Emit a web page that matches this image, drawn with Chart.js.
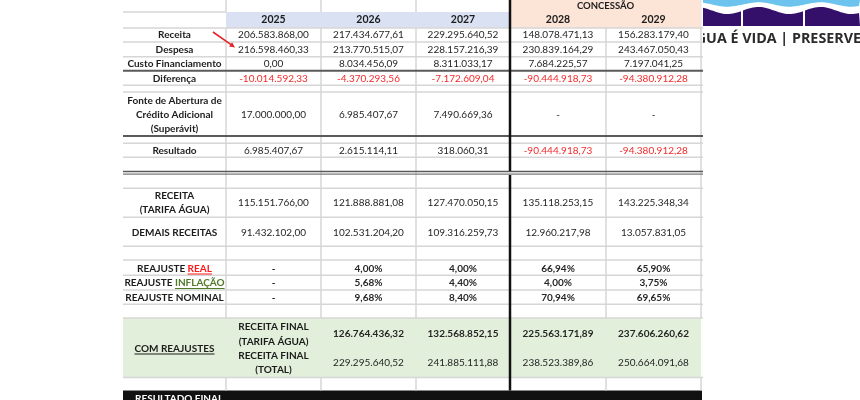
<!DOCTYPE html>
<html lang="pt-BR">
<head>
<meta charset="UTF-8">
<title>Projeção - Concessão</title>
<script src="https://cdn.jsdelivr.net/npm/chart.js"></script>
<style>
  body { margin: 0; background: #fff; }
  canvas { display: block; }
</style>
</head>
<body>
<canvas id="tabela" width="860" height="400"></canvas>
<script>
// dados da planilha
const ANOS = ['2025', '2026', '2027', '2028', '2029'];
const RECEITA = [206583868.00, 217434677.61, 229295640.52, 148078471.13, 156283179.40];
const DESPESA = [216598460.33, 213770515.07, 228157216.39, 230839164.29, 243467050.43];
const CUSTO_FIN = [0.00, 8034456.09, 8311033.17, 7684225.57, 7197041.25];
const DIFERENCA = [-10014592.33, -4370293.56, -7172609.04, -90444918.73, -94380912.28];
const FONTE_CREDITO = [17000000.00, 6985407.67, 7490669.36, null, null];
const RESULTADO = [6985407.67, 2615114.11, 318060.31, -90444918.73, -94380912.28];
const RECEITA_TARIFA = [115151766.00, 121888881.08, 127470050.15, 135118253.15, 143225348.34];
const DEMAIS_RECEITAS = [91432102.00, 102531204.20, 109316259.73, 12960217.98, 13057831.05];
const REAJ_REAL = [null, 4.00, 4.00, 66.94, 65.90];
const REAJ_INFLACAO = [null, 5.68, 4.40, 4.00, 3.75];
const REAJ_NOMINAL = [null, 9.68, 8.40, 70.94, 69.65];
const FINAL_TARIFA = [null, 126764436.32, 132568852.15, 225563171.89, 237606260.62];
const FINAL_TOTAL = [null, 229295640.52, 241885111.88, 238523389.86, 250664091.68];

// layout da grade (unidades das escalas)
const COLS = [123, 226, 321, 416, 510, 606, 701];
const colMid = i => (COLS[i] + COLS[i + 1]) / 2;
const FONT = 'Lato';

function moeda(v) {
    const s = Math.abs(v).toFixed(2).split('.');
    const inteiro = s[0].replace(/\B(?=(\d{3})+(?!\d))/g, '.');
    return (v < 0 ? '-' : '') + inteiro + ',' + s[1];
}
function pct(v) {
    return v.toFixed(2).replace('.', ',') + '%';
}

const linhas = [
    { valores: RECEITA, y: 35, fmt: moeda },
    { valores: DESPESA, y: 49.5, fmt: moeda },
    { valores: CUSTO_FIN, y: 63.5, fmt: moeda },
    { valores: DIFERENCA, y: 78.5, fmt: moeda },
    { valores: FONTE_CREDITO, y: 115, fmt: moeda },
    { valores: RESULTADO, y: 151, fmt: moeda },
    { valores: RECEITA_TARIFA, y: 203, fmt: moeda },
    { valores: DEMAIS_RECEITAS, y: 232.5, fmt: moeda },
    { valores: REAJ_REAL, y: 268.5, fmt: pct, bold: true },
    { valores: REAJ_INFLACAO, y: 283, fmt: pct, bold: true },
    { valores: REAJ_NOMINAL, y: 297.5, fmt: pct, bold: true },
    { valores: FINAL_TARIFA, y: 334, fmt: moeda, bold: true, pular: true },
    { valores: FINAL_TOTAL, y: 362.5, fmt: moeda, pular: true }
];

const datasets = linhas.map(l => ({
    data: l.valores.map((v, i) => ({
        x: colMid(i + 1),
        y: l.y,
        t: v === null ? (l.pular ? '' : '-') : l.fmt(v),
        neg: v !== null && v < 0
    })),
    bold: !!l.bold,
    pointRadius: 0
}));

const rotulos = [
    { y: 35, t: ['Receita'] },
    { y: 49.5, t: ['Despesa'] },
    { y: 63.5, t: ['Custo Financiamento'] },
    { y: 78.5, t: ['Diferença'] },
    { y: 114.5, t: ['Fonte de Abertura de', 'Crédito Adicional', '(Superávit)'] },
    { y: 151, t: ['Resultado'] },
    { y: 203, t: ['RECEITA', '(TARIFA ÁGUA)'] },
    { y: 232.5, t: ['DEMAIS RECEITAS'] }
];

function linhaH(ctx, sx, sy, x0, x1, y, cor, w) {
    ctx.strokeStyle = cor;
    ctx.lineWidth = w;
    ctx.beginPath();
    ctx.moveTo(sx.getPixelForValue(x0), sy.getPixelForValue(y));
    ctx.lineTo(sx.getPixelForValue(x1), sy.getPixelForValue(y));
    ctx.stroke();
}
function linhaV(ctx, sx, sy, x, y0, y1, cor, w) {
    ctx.strokeStyle = cor;
    ctx.lineWidth = w;
    ctx.beginPath();
    ctx.moveTo(sx.getPixelForValue(x), sy.getPixelForValue(y0));
    ctx.lineTo(sx.getPixelForValue(x), sy.getPixelForValue(y1));
    ctx.stroke();
}
function caixa(ctx, sx, sy, x0, y0, x1, y1, cor) {
    const a = sx.getPixelForValue(x0), b = sy.getPixelForValue(y0);
    ctx.fillStyle = cor;
    ctx.fillRect(a, b, sx.getPixelForValue(x1) - a, sy.getPixelForValue(y1) - b);
}
// texto com partes coloridas/sublinhadas
function partes(ctx, cx, cy, lista) {
    ctx.font = 'bold 10px ' + FONT;
    const total = lista.reduce((s, p) => s + ctx.measureText(p.t).width, 0);
    let x = cx - total / 2;
    ctx.textAlign = 'left';
    lista.forEach(p => {
        const w = ctx.measureText(p.t).width;
        ctx.fillStyle = p.cor || '#1c1c1c';
        ctx.fillText(p.t, x, cy);
        if (p.sub) {
            ctx.fillRect(x, cy + 5, w, 1);
        }
        x += w;
    });
    ctx.textAlign = 'center';
}

const tabelaPlugin = {
    id: 'tabela',
    beforeDatasetsDraw(chart) {
        const ctx = chart.ctx;
        const sx = chart.scales.x, sy = chart.scales.y;
        const px = v => sx.getPixelForValue(v), py = v => sy.getPixelForValue(v);
        ctx.save();

        // fundos
        caixa(ctx, sx, sy, COLS[1], 12, COLS[4], 28, '#d9e1f2');
        caixa(ctx, sx, sy, COLS[4], 0, COLS[6], 28, '#fce4d6');
        caixa(ctx, sx, sy, COLS[0], 318, COLS[6], 377.5, '#e2efda');
        caixa(ctx, sx, sy, COLS[0], 390.5, COLS[6] + 1, 400, '#111111');

        // grade vertical
        [1, 2, 3].forEach(c => {
            linhaV(ctx, sx, sy, COLS[c], 0, 12, '#d6d6d6', 1.5);
        });
        [1, 2, 3, 5, 6].forEach(c => {
            linhaV(ctx, sx, sy, COLS[c], 28, 318, '#d6d6d6', 1.5);
            linhaV(ctx, sx, sy, COLS[c], 377.5, 390.5, '#d6d6d6', 1.5);
        });
        linhaV(ctx, sx, sy, COLS[6], 0, 28, '#e4e4e4', 1);

        // grade horizontal
        linhaH(ctx, sx, sy, COLS[0], COLS[1], 12, '#d6d6d6', 1.5);
        [28, 42, 56.7, 85.3, 92, 143.3, 157.3, 188.3, 217.3, 246.3, 260, 275.3, 290, 304.3, 318, 377.5]
            .forEach(y => linhaH(ctx, sx, sy, COLS[0], COLS[6] + 2, y, '#d6d6d6', 1.5));
        [70.7, 136].forEach(y => linhaH(ctx, sx, sy, COLS[0], COLS[6] + 2, y, '#5a5a5a', 2));
        linhaH(ctx, sx, sy, COLS[0], COLS[6] + 2, 171.6, '#5a5a5a', 1.5);
        linhaH(ctx, sx, sy, COLS[0], COLS[6] + 2, 174.2, '#7a7a7a', 1.2);

        // divisória da concessão
        linhaV(ctx, sx, sy, COLS[4], 0, 171, '#111', 2.5);
        linhaV(ctx, sx, sy, COLS[4], 175, 390.5, '#111', 2.5);

        // cabeçalho
        ctx.textAlign = 'center';
        ctx.textBaseline = 'middle';
        ctx.fillStyle = '#1c1c1c';
        ctx.font = 'bold 9.5px ' + FONT;
        ctx.fillText('CONCESSÃO', px((COLS[4] + COLS[6]) / 2), py(5.5));
        ctx.font = 'bold 10.5px ' + FONT;
        ANOS.forEach((a, i) => ctx.fillText(a, px(colMid(i + 1)), py(20)));

        // rótulos das linhas
        ctx.font = 'bold 10px ' + FONT;
        rotulos.forEach(r => {
            const n = r.t.length;
            r.t.forEach((t, k) => ctx.fillText(t, px(colMid(0)), py(r.y + (k - (n - 1) / 2) * 14.2)));
        });
        partes(ctx, px(colMid(0)), py(268.5), [{ t: 'REAJUSTE ' }, { t: 'REAL', cor: '#ff1a1a', sub: true }]);
        partes(ctx, px(colMid(0)), py(283), [{ t: 'REAJUSTE ' }, { t: 'INFLAÇÃO', cor: '#4f7a28', sub: true }]);
        partes(ctx, px(colMid(0)), py(297.5), [{ t: 'REAJUSTE NOMINAL' }]);
        partes(ctx, px(colMid(0)), py(348.5), [{ t: 'COM REAJUSTES', sub: true }]);
        ctx.font = 'bold 10px ' + FONT;
        ctx.fillStyle = '#1c1c1c';
        ['RECEITA FINAL', '(TARIFA ÁGUA)'].forEach((t, k) => ctx.fillText(t, px(colMid(1)), py(327 + k * 14.5)));
        ['RECEITA FINAL', '(TOTAL)'].forEach((t, k) => ctx.fillText(t, px(colMid(1)), py(355.5 + k * 14.5)));

        ctx.fillStyle = '#ffffff';
        ctx.textAlign = 'left';
        ctx.fillText('RESULTADO FINAL', px(135), py(399));

        // seta vermelha
        const ax0 = px(213), ay0 = py(32), ax1 = px(235), ay1 = py(47.5);
        ctx.strokeStyle = '#e3262b';
        ctx.fillStyle = '#e3262b';
        ctx.lineWidth = 1.6;
        ctx.beginPath();
        ctx.moveTo(ax0, ay0);
        ctx.lineTo(ax1 - 4, ay1 - 2.8);
        ctx.stroke();
        const ang = Math.atan2(ay1 - ay0, ax1 - ax0);
        ctx.beginPath();
        ctx.moveTo(ax1, ay1);
        ctx.lineTo(ax1 - 6 * Math.cos(ang - 0.45), ay1 - 6 * Math.sin(ang - 0.45));
        ctx.lineTo(ax1 - 6 * Math.cos(ang + 0.45), ay1 - 6 * Math.sin(ang + 0.45));
        ctx.closePath();
        ctx.fill();

        // logo (recortado)
        ctx.beginPath();
        ctx.rect(px(703), py(0), px(860) - px(703), py(48) - py(0));
        ctx.clip();
        ctx.fillStyle = '#6cc4ee';
        ctx.beginPath();
        ctx.moveTo(px(703), py(0));
        for (let x = 703; x <= 860; x += 2) {
            ctx.lineTo(px(x), py(4.5 + 2.2 * Math.sin((x - 712) / 62 * 2 * Math.PI)));
        }
        ctx.lineTo(px(860), py(0));
        ctx.closePath();
        ctx.fill();
        ctx.fillStyle = '#34106a';
        [[703, 741], [743, 803], [805, 860]].forEach(([a, b]) => {
            ctx.beginPath();
            ctx.moveTo(px(a), py(26));
            for (let x = a; x <= b; x += 2) {
                ctx.lineTo(px(x), py(10.5 + 3.5 * Math.sin((x - 712) / 62 * 2 * Math.PI)));
            }
            ctx.lineTo(px(b), py(26));
            ctx.closePath();
            ctx.fill();
        });
        ctx.fillStyle = '#2b2b2b';
        ctx.font = 'bold 14.3px "Open Sans"';
        ctx.textAlign = 'right';
        ctx.fillText('ÁGUA É VIDA | PRESERVE', px(861), py(38.5));
        ctx.restore();
    },
    afterDatasetsDraw(chart) {
        const ctx = chart.ctx;
        ctx.save();
        ctx.textAlign = 'center';
        ctx.textBaseline = 'middle';
        chart.data.datasets.forEach((ds, di) => {
            const meta = chart.getDatasetMeta(di);
            ctx.font = (ds.bold ? 'bold ' : '') + '10px ' + FONT;
            meta.data.forEach((pt, i) => {
                const d = ds.data[i];
                ctx.fillStyle = d.neg ? '#f52a2a' : '#262626';
                ctx.fillText(d.t, pt.x, pt.y);
            });
        });
        ctx.restore();
    }
};

const ctx = document.getElementById('tabela').getContext('2d');
const tabela = new Chart(ctx, {
    type: 'scatter',
    data: { datasets: datasets },
    options: {
        responsive: false,
        animation: false,
        layout: { padding: 0 },
        plugins: { legend: { display: false }, tooltip: { enabled: false } },
        scales: {
            x: { type: 'linear', min: 0, max: 860, display: false },
            y: { type: 'linear', min: 0, max: 400, reverse: true, display: false }
        }
    },
    plugins: [tabelaPlugin]
});
</script>
</body>
</html>
